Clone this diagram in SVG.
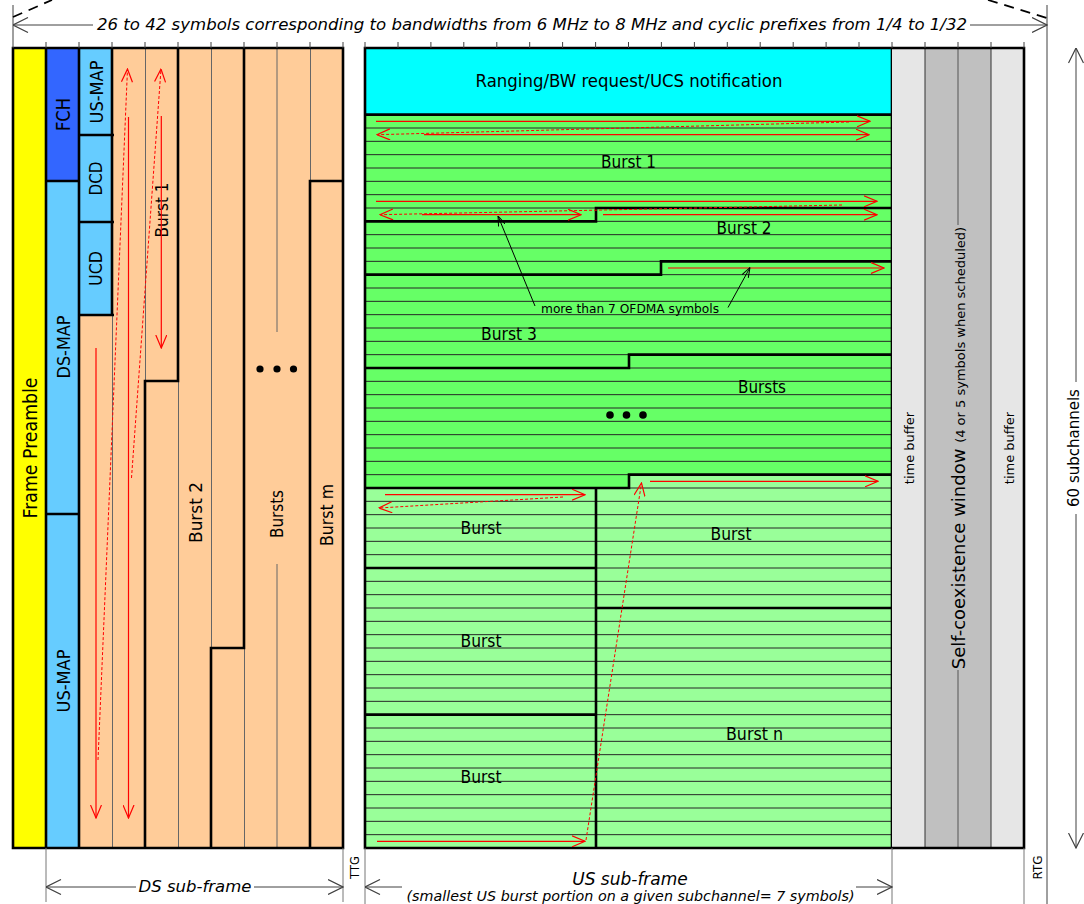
<svg xmlns="http://www.w3.org/2000/svg" width="1084" height="904" viewBox="0 0 1084 904">
<defs>
<style>
.l{font-family:"DejaVu Sans","Liberation Sans",sans-serif;fill:#000}
.it{font-style:italic}
.thick{fill:none;stroke:#000;stroke-width:2.6}
.thin{fill:none;stroke:#666;stroke-width:1}
.row{fill:none;stroke:#262626;stroke-width:1}
.red{fill:none;stroke:#ff0000;stroke-width:1.2}
.rdash{fill:none;stroke:#ff0000;stroke-width:1;stroke-dasharray:3 2}
.dim{fill:none;stroke:#404040;stroke-width:1}
.tick{fill:none;stroke:#404040;stroke-width:1}
</style>
<marker id="ar" viewBox="0 0 14 12" refX="13.5" refY="6" markerWidth="14" markerHeight="12" markerUnits="userSpaceOnUse" orient="auto"><path d="M0.5,0.5 L13.5,6 L0.5,11.5" fill="none" stroke="#ff0000" stroke-width="1.2"/></marker>
<marker id="ad" viewBox="0 0 16 16" refX="15.5" refY="8" markerWidth="16" markerHeight="16" markerUnits="userSpaceOnUse" orient="auto"><path d="M0.5,0.5 L15.5,8 L0.5,15.5" fill="none" stroke="#404040" stroke-width="1.2"/></marker>
<marker id="ak" viewBox="0 0 10 8" refX="10" refY="4" markerWidth="10" markerHeight="8" markerUnits="userSpaceOnUse" orient="auto"><path d="M0,0.5 L10,4 L0,7.5" fill="none" stroke="#000" stroke-width="1"/></marker>
</defs>
<rect width="1084" height="904" fill="#fff"/>

<!-- DS sub-frame nodes -->
<g id="frame-preamble">
<rect x="13" y="48" width="33" height="800" fill="#ffff00"/>
<text class="l" font-size="19.5" text-anchor="middle" textLength="141" lengthAdjust="spacingAndGlyphs" transform="translate(37,448) rotate(-90)">Frame Preamble</text>
</g>
<g id="fch">
<rect x="46" y="48" width="33" height="133" fill="#3366ff"/>
<text class="l" font-size="19" text-anchor="middle" textLength="33" lengthAdjust="spacingAndGlyphs" transform="translate(70,114.5) rotate(-90)">FCH</text>
</g>
<g id="ds-map">
<rect x="46" y="181" width="33" height="333" fill="#66ccff"/>
<text class="l" font-size="18" text-anchor="middle" textLength="63" lengthAdjust="spacingAndGlyphs" transform="translate(70,347) rotate(-90)">DS-MAP</text>
</g>
<g id="us-map-left">
<rect x="46" y="514" width="33" height="334" fill="#66ccff"/>
<text class="l" font-size="18" text-anchor="middle" textLength="63" lengthAdjust="spacingAndGlyphs" transform="translate(70,681) rotate(-90)">US-MAP</text>
</g>
<g id="us-map-top">
<rect x="79" y="48" width="33" height="87" fill="#66ccff"/>
<text class="l" font-size="18" text-anchor="middle" textLength="63" lengthAdjust="spacingAndGlyphs" transform="translate(103,92) rotate(-90)">US-MAP</text>
</g>
<g id="dcd">
<rect x="79" y="135" width="33" height="87" fill="#66ccff"/>
<text class="l" font-size="18" text-anchor="middle" textLength="34" lengthAdjust="spacingAndGlyphs" transform="translate(102,178.5) rotate(-90)">DCD</text>
</g>
<g id="ucd">
<rect x="79" y="222" width="33" height="93" fill="#66ccff"/>
<text class="l" font-size="18" text-anchor="middle" textLength="35" lengthAdjust="spacingAndGlyphs" transform="translate(102,268.5) rotate(-90)">UCD</text>
</g>
<g id="ds-map-cont">
<path d="M79,315 H145 V848 H79 Z M112,48 H145 V315 H112 Z" fill="#ffcc99"/>
</g>
<g id="ds-burst-1">
<rect x="145" y="48" width="33" height="333" fill="#ffcc99"/>
<text class="l" font-size="17.5" text-anchor="middle" textLength="55" lengthAdjust="spacingAndGlyphs" transform="translate(168,210) rotate(-90)">Burst 1</text>
</g>
<g id="ds-burst-2">
<path d="M178,48 H244 V648 H211 V848 H145 V381 H178 Z" fill="#ffcc99"/>
<text class="l" font-size="18.5" text-anchor="middle" textLength="61" lengthAdjust="spacingAndGlyphs" transform="translate(202,512.5) rotate(-90)">Burst 2</text>
</g>
<g id="ds-bursts">
<path d="M244,48 H343 V181 H310 V848 H211 V648 H244 Z" fill="#ffcc99"/>
<text class="l" font-size="17.5" text-anchor="middle" textLength="48" lengthAdjust="spacingAndGlyphs" transform="translate(283,514) rotate(-90)">Bursts</text>
<circle cx="260" cy="369" r="3.6" fill="#000"/>
<circle cx="277" cy="369" r="3.6" fill="#000"/>
<circle cx="293.5" cy="369" r="3.6" fill="#000"/>
</g>
<g id="ds-burst-m">
<rect x="310" y="181" width="33" height="667" fill="#ffcc99"/>
<text class="l" font-size="18.5" text-anchor="middle" textLength="62" lengthAdjust="spacingAndGlyphs" transform="translate(333,515) rotate(-90)">Burst m</text>
</g>
<g id="ds-lines">
<path class="thin" d="M112.5,315 V848 M145.5,48 V381 M178.5,381 V848 M211.5,48 V648 M244.5,648 V848 M277,48 V332 M277,564 V848 M310.5,48 V181"/>
<path class="thick" d="M13,48 H343 V848 H13 Z M46,48 V848 M79,48 V848 M46,181 H79 M46,514 H79 M112,48 V315 M79,135 H114 M79,222 H114 M79,315 H114 M178,48 V381 H145 V848 M244,48 V648 H211 V848 M310,848 V181 H343"/>
</g>

<!-- US sub-frame nodes -->
<g id="ranging">
<rect x="365" y="48" width="527" height="66.67" fill="#00ffff"/>
<text class="l" x="629" y="87" font-size="17.5" text-anchor="middle" textLength="307" lengthAdjust="spacingAndGlyphs">Ranging/BW request/UCS notification</text>
</g>
<g id="us-burst-1">
<path d="M365,114.67 H892 V208 H596 V221.33 H365 Z" fill="#66ff66"/>
</g>
<g id="us-burst-2">
<path d="M365,221.33 H596 V208 H892 V261.33 H661 V274.67 H365 Z" fill="#66ff66"/>
</g>
<g id="us-burst-3">
<path d="M365,274.67 H661 V261.33 H892 V354.67 H629 V368 H365 Z" fill="#66ff66"/>
</g>
<g id="us-bursts">
<path d="M365,368 H629 V354.67 H892 V474.67 H629 V488 H365 Z" fill="#66ff66"/>
</g>
<g id="us-burst-l1"><rect x="365" y="488" width="231" height="80" fill="#99ff99"/></g>
<g id="us-burst-l2"><rect x="365" y="568" width="231" height="146.67" fill="#99ff99"/></g>
<g id="us-burst-l3"><rect x="365" y="714.67" width="231" height="133.33" fill="#99ff99"/></g>
<g id="us-burst-r1"><path d="M596,488 H629 V474.67 H892 V608 H596 Z" fill="#99ff99"/></g>
<g id="us-burst-n"><rect x="596" y="608" width="296" height="240" fill="#99ff99"/></g>

<g id="us-rows">
<path class="row" d="M365,128 H892 M365,141.33 H892 M365,154.67 H892 M365,168 H892 M365,181.33 H892 M365,194.67 H892 M365,208 H892 M365,221.33 H892 M365,234.67 H892 M365,248 H892 M365,261.33 H892 M365,274.67 H892 M365,288 H892 M365,301.33 H892 M365,314.67 H892 M365,328 H892 M365,341.33 H892 M365,354.67 H892 M365,368 H892 M365,381.33 H892 M365,394.67 H892 M365,408 H892 M365,421.33 H892 M365,434.67 H892 M365,448 H892 M365,461.33 H892 M365,474.67 H892 M365,488 H892 M365,501.33 H892 M365,514.67 H892 M365,528 H892 M365,541.33 H892 M365,554.67 H892 M365,568 H892 M365,581.33 H892 M365,594.67 H892 M365,608 H892 M365,621.33 H892 M365,634.67 H892 M365,648 H892 M365,661.33 H892 M365,674.67 H892 M365,688 H892 M365,701.33 H892 M365,714.67 H892 M365,728 H892 M365,741.33 H892 M365,754.67 H892 M365,768 H892 M365,781.33 H892 M365,794.67 H892 M365,808 H892 M365,821.33 H892 M365,834.67 H892"/>
</g>

<g id="us-labels">
<text class="l" x="628.5" y="168" font-size="17.5" text-anchor="middle" textLength="55" lengthAdjust="spacingAndGlyphs">Burst 1</text>
<text class="l" x="744" y="233.5" font-size="17.5" text-anchor="middle" textLength="55" lengthAdjust="spacingAndGlyphs">Burst 2</text>
<text class="l" x="509" y="340" font-size="17.5" text-anchor="middle" textLength="56" lengthAdjust="spacingAndGlyphs">Burst 3</text>
<text class="l" x="762" y="393" font-size="17.5" text-anchor="middle" textLength="48" lengthAdjust="spacingAndGlyphs">Bursts</text>
<circle cx="610" cy="415" r="3.8" fill="#000"/>
<circle cx="626.5" cy="415" r="3.8" fill="#000"/>
<circle cx="643" cy="415" r="3.8" fill="#000"/>
<text class="l" x="481" y="534" font-size="17.5" text-anchor="middle" textLength="41" lengthAdjust="spacingAndGlyphs">Burst</text>
<text class="l" x="731" y="540" font-size="17.5" text-anchor="middle" textLength="41" lengthAdjust="spacingAndGlyphs">Burst</text>
<text class="l" x="481" y="647" font-size="17.5" text-anchor="middle" textLength="41" lengthAdjust="spacingAndGlyphs">Burst</text>
<text class="l" x="754.5" y="740" font-size="17.5" text-anchor="middle" textLength="57" lengthAdjust="spacingAndGlyphs">Burst n</text>
<text class="l" x="481" y="783" font-size="17.5" text-anchor="middle" textLength="41" lengthAdjust="spacingAndGlyphs">Burst</text>
<text class="l" x="630" y="312.5" font-size="12.2" text-anchor="middle" textLength="178" lengthAdjust="spacingAndGlyphs">more than 7 OFDMA symbols</text>
</g>

<g id="us-borders">
<path class="thick" d="M365,48 H892 V848 H365 Z M365,114.67 H892 M365,221.33 H596 V208 H892 M365,274.67 H661 V261.33 H892 M365,368 H629 V354.67 H892 M365,488 H629 V474.67 H892 M596,488 V848 M365,568 H596 M365,714.67 H596 M596,608 H892"/>
</g>

<!-- right side columns -->
<g id="time-buffer-1">
<rect x="892" y="48" width="33" height="800" fill="#e6e6e6"/>
<text class="l" font-size="13" text-anchor="middle" transform="translate(913.5,448) rotate(-90)">time buffer</text>
</g>
<g id="self-coexistence-window">
<rect x="925" y="48" width="66" height="800" fill="#c0c0c0"/>
<path d="M958,48 V225 M958,670 V848" fill="none" stroke="#555" stroke-width="1"/>
<text class="l" text-anchor="middle" transform="translate(964.5,448) rotate(-90)"><tspan font-size="18">Self-coexistence window </tspan><tspan font-size="13">(4 or 5 symbols when scheduled)</tspan></text>
</g>
<g id="time-buffer-2">
<rect x="991" y="48" width="33" height="800" fill="#e6e6e6"/>
<text class="l" font-size="13" text-anchor="middle" transform="translate(1013.5,448) rotate(-90)">time buffer</text>
</g>
<g id="right-borders">
<path d="M925,48 V848 M991,48 V848" fill="none" stroke="#333" stroke-width="1"/>
<path class="thick" d="M892,48 H1024 V848 H892"/>
</g>

<!-- connectors -->
<g id="connectors">
<path class="red" d="M96,348 V818" marker-end="url(#ar)"/>
<path class="red" d="M128.5,117 V818" marker-end="url(#ar)"/>
<path class="rdash" d="M98,760 L127.5,69" marker-end="url(#ar)"/>
<path class="red" d="M161.3,116 V348" marker-end="url(#ar)"/>
<path class="rdash" d="M131.5,478 L161,69" marker-end="url(#ar)"/>
<path class="red" d="M376,121.3 H870" marker-end="url(#ar)"/>
<path class="rdash" d="M849,122 L377,134.7" marker-end="url(#ar)"/>
<path class="red" d="M424,134.7 H869" marker-end="url(#ar)"/>
<path class="red" d="M376,201.3 H877" marker-end="url(#ar)"/>
<path class="rdash" d="M842,205 L380,214.7" marker-end="url(#ar)"/>
<path class="red" d="M422,214.7 H581" marker-end="url(#ar)"/>
<path class="red" d="M603,214.7 H877" marker-end="url(#ar)"/>
<path class="red" d="M668,268 H884" marker-end="url(#ar)"/>
<path class="red" d="M650,481.3 H878" marker-end="url(#ar)"/>
<path class="red" d="M385,494.7 H585" marker-end="url(#ar)"/>
<path class="rdash" d="M563,497 L379,508" marker-end="url(#ar)"/>
<path class="red" d="M377,841.3 H585" marker-end="url(#ar)"/>
<path class="rdash" d="M586,840 L641.5,483" marker-end="url(#ar)"/>
<path d="M535,306 L498,216" fill="none" stroke="#000" stroke-width="1" marker-end="url(#ak)"/>
<path d="M728,307.5 L750,267.5" fill="none" stroke="#000" stroke-width="1" marker-end="url(#ak)"/>
</g>

<!-- dimensions -->
<g id="dimensions">
<path class="tick" d="M13,5 V48 M1047,5 V904 M46,42 V48 M79,42 V48 M112,42 V48 M145,42 V48 M178,42 V48 M211,42 V48 M244,42 V48 M277,42 V48 M310,42 V48 M343,42 V48 M365,42 V48 M398,42 V48 M430.9,42 V48 M463.8,42 V48 M496.8,42 V48 M529.7,42 V48 M562.6,42 V48 M595.6,42 V48 M628.5,42 V48 M661.4,42 V48 M694.4,42 V48 M727.3,42 V48 M760.2,42 V48 M793.2,42 V48 M826.1,42 V48 M859,42 V48 M892,42 V48 M925,42 V48 M958,42 V48 M991,42 V48 M1024,42 V48"/>
<path d="M13,17 L52,0 M988,0 L1047,18" fill="none" stroke="#000" stroke-width="1.8" stroke-dasharray="10 7"/>
<path class="dim" d="M93,25 H13" marker-end="url(#ad)"/>
<path class="dim" d="M970,25 H1047" marker-end="url(#ad)"/>
<text class="l it" x="532" y="30" font-size="16.5" text-anchor="middle" textLength="870" lengthAdjust="spacingAndGlyphs">26 to 42 symbols corresponding to bandwidths from 6 MHz to 8 MHz and cyclic prefixes from 1/4 to 1/32</text>
<path d="M46,848 V902 M343,848 V902 M365,848 V904 M892,848 V904 M1024,848 V904" fill="none" stroke="#777" stroke-width="1"/>
<path class="dim" d="M136,887 H46" marker-end="url(#ad)"/>
<path class="dim" d="M254,887 H343" marker-end="url(#ad)"/>
<text class="l it" x="195" y="892" font-size="16.5" text-anchor="middle">DS sub-frame</text>
<text class="l" font-size="11.5" text-anchor="middle" transform="translate(359,867.5) rotate(-90)">TTG</text>
<path class="dim" d="M402,887 H365" marker-end="url(#ad)"/>
<path class="dim" d="M856,887 H892" marker-end="url(#ad)"/>
<text class="l it" x="630" y="884.5" font-size="17" text-anchor="middle">US sub-frame</text>
<text class="l it" x="630.5" y="900.5" font-size="14" text-anchor="middle" textLength="448" lengthAdjust="spacingAndGlyphs">(smallest US burst portion on a given subchannel= 7 symbols)</text>
<text class="l" font-size="12" text-anchor="middle" transform="translate(1042,867.5) rotate(-90)">RTG</text>
<path class="dim" d="M1076,382 V48" marker-end="url(#ad)"/>
<path class="dim" d="M1076,514 V848" marker-end="url(#ad)"/>
<text class="l" font-size="15" text-anchor="middle" transform="translate(1079,448) rotate(-90)">60 subchannels</text>
</g>
</svg>
